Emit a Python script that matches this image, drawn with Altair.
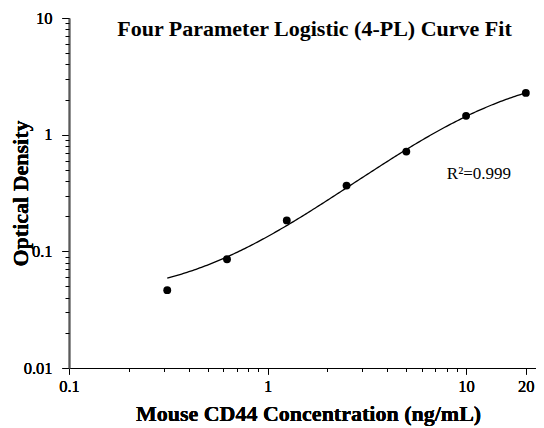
import altair as alt
import numpy as np
import pandas as pd

# Standard concentrations (ng/mL) and measured optical density
conc = [0.3125, 0.625, 1.25, 2.5, 5, 10, 20]
od = [0.0465, 0.0855, 0.184, 0.366, 0.716, 1.45, 2.28]

x_major = [0.1, 1, 10, 20]
x_minor = [0.2, 0.3, 0.4, 0.5, 0.6, 0.7, 0.8, 0.9, 2, 3, 4, 5, 6, 7, 8, 9]
y_major = [0.01, 0.1, 1, 10]
y_minor = [0.02, 0.03, 0.04, 0.05, 0.06, 0.07, 0.08, 0.09,
           0.2, 0.3, 0.4, 0.5, 0.6, 0.7, 0.8, 0.9,
           2, 3, 4, 5, 6, 7, 8, 9]

r2_label = "R\u00b2=0.999"
title_text = "Four Parameter Logistic (4-PL) Curve Fit"
x_title = "Mouse CD44 Concentration (ng/mL)"
y_title = "Optical Density"

# ---- 4-PL least squares fit: y = D + (A - D) / (1 + (x/C)^B) ----
xa = np.array(conc, dtype=float)
ya = np.array(od, dtype=float)
Bs = np.arange(0.3, 3.0, 0.005)
Cs = 10 ** np.arange(-0.5, 3.0, 0.002)
best = (np.inf, None)
with np.errstate(all="ignore"):
    for B in Bs:
        g = 1.0 / (1.0 + (xa[None, :] / Cs[:, None]) ** B)
        h = 1.0 - g
        s11 = (g * g).sum(1); s12 = (g * h).sum(1); s22 = (h * h).sum(1)
        t1 = (g * ya).sum(1); t2 = (h * ya).sum(1)
        det = s11 * s22 - s12 ** 2
        A = (t1 * s22 - t2 * s12) / det
        D = (s11 * t2 - s12 * t1) / det
        pred = A[:, None] * g + D[:, None] * h
        sse = ((pred - ya) ** 2).sum(1)
        sse = np.where(np.isfinite(sse), sse, np.inf)
        i = int(np.argmin(sse))
        if sse[i] < best[0]:
            best = (sse[i], (A[i], B, Cs[i], D[i]))
pA, pB, pC, pD = best[1]
xs = np.logspace(np.log10(conc[0]), np.log10(conc[-1]), 200)
ys = pD + (pA - pD) / (1 + (xs / pC) ** pB)

pts_df = pd.DataFrame({"x": conc, "y": od})
curve_df = pd.DataFrame({"x": xs, "y": ys})
note_df = pd.DataFrame({"x": [8.0], "y": [0.42], "t": [r2_label]})

FONT = "Liberation Serif"
xscale = alt.Scale(type="log", domain=[0.1, 22.5], nice=False)
yscale = alt.Scale(type="log", domain=[0.01, 10], nice=False)

x_main = alt.X("x:Q", scale=xscale, axis=alt.Axis(
    values=x_major, labelExpr="datum.value + ''", tickSize=6, labelPadding=4,
    domainColor="black", tickColor="black", title=x_title, titlePadding=9,
    titleX=239, orient="bottom", labelFlush=False, labelOverlap=False))
y_main = alt.Y("y:Q", scale=yscale, axis=alt.Axis(
    values=y_major, labelExpr="datum.value + ''", tickSize=7, labelPadding=10,
    domainColor="#5a5a5a", domainWidth=1.6, tickColor="black", title=y_title,
    titleX=-37, orient="left", labelFlush=False, labelOverlap=False))

x_min = alt.X("x:Q", scale=xscale, axis=alt.Axis(
    values=x_minor, labels=False, tickSize=3.5, domain=False, tickColor="black",
    title="", orient="bottom"))
y_min = alt.Y("y:Q", scale=yscale, axis=alt.Axis(
    values=y_minor, labels=False, tickSize=4, domain=False, tickColor="black",
    title="", orient="left"))

curve = alt.Chart(curve_df).mark_line(color="black", strokeWidth=1.3).encode(x=x_main, y=y_main)
points = alt.Chart(pts_df).mark_circle(size=62, color="black", opacity=1).encode(x=x_main, y=y_main)
note = alt.Chart(note_df).mark_text(
    align="left", baseline="alphabetic", font=FONT, fontSize=17, color="black"
).encode(x=x_main, y=y_main, text="t:N")
minor = alt.Chart(pts_df).mark_point(opacity=0).encode(x=x_min, y=y_min)

chart = alt.layer(curve, points, note, minor).resolve_axis(
    x="independent", y="independent"
).properties(
    width=467, height=350,
    autosize="none",
    padding={"left": 61, "top": 10, "right": 0, "bottom": 58},
    title=alt.TitleParams(
        text=title_text, font=FONT, fontSize=22, fontWeight="bold", color="black",
        anchor="middle", frame="group", orient="top", offset=-20,
        baseline="alphabetic", dx=12, dy=28),
).configure_axis(
    grid=False,
    labelFont=FONT, labelFontSize=16.5, labelColor="black",
    titleFont=FONT, titleFontSize=22, titleFontWeight="bold", titleColor="black",
).configure_view(stroke=None)

chart.save("out.html", embed_options={"renderer": "svg", "actions": False})
